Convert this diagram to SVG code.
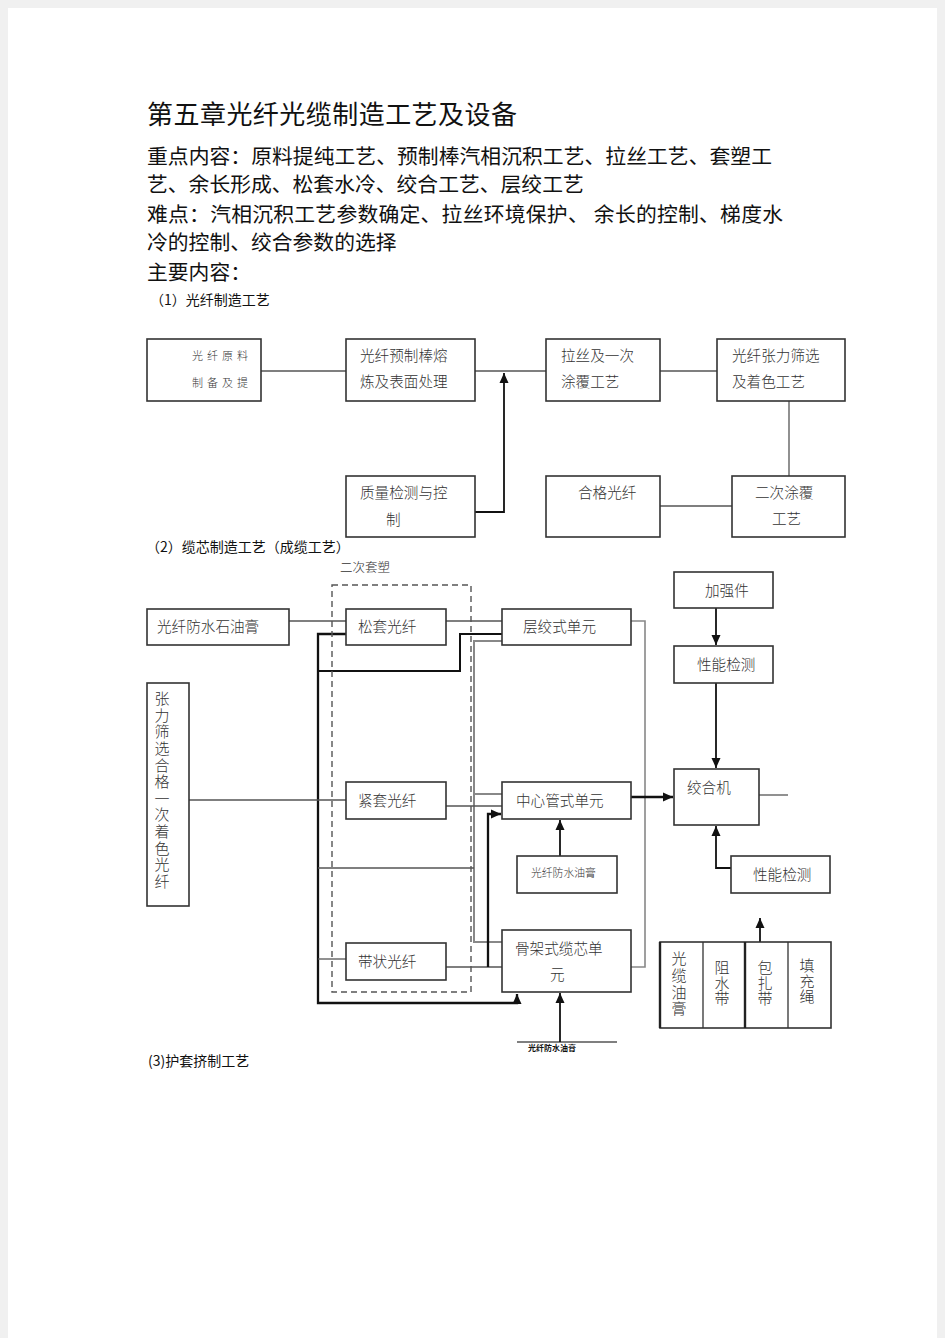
<svg xmlns="http://www.w3.org/2000/svg" width="945" height="1338" viewBox="0 0 945 1338">
<style>
.h{font-family:"Noto Sans CJK SC","Noto Sans",sans-serif;fill:#111}
.t{font-family:"Noto Sans CJK SC","Noto Sans",sans-serif;fill:#333;font-size:14.6px;font-weight:300}
.v{writing-mode:vertical-rl;font-size:14.6px}
.box{fill:#fff;stroke:#333;stroke-width:1.6}
.thin{fill:none;stroke:#555;stroke-width:1.3}
.thick{fill:none;stroke:#111;stroke-width:2.3}
.gray{fill:none;stroke:#888;stroke-width:2}
.dash{fill:none;stroke:#555;stroke-width:1.4;stroke-dasharray:6 4}
</style>
<defs>
<marker id="ah" markerUnits="userSpaceOnUse" markerWidth="10" markerHeight="10" refX="10" refY="5" orient="auto"><path d="M0,0.5 L10,5 L0,9.5 z" fill="#111"/></marker>
</defs>
<rect width="945" height="1338" fill="#f0f0f0"/>
<rect x="8" y="8" width="929" height="1330" fill="#fff"/>

<g id="heading">
<text class="h" x="147" y="124" font-size="26" textLength="370">第五章光纤光缆制造工艺及设备</text>
<text class="h" x="147" y="164" font-size="20.8" textLength="625">重点内容：原料提纯工艺、预制棒汽相沉积工艺、拉丝工艺、套塑工</text>
<text class="h" x="147" y="192" font-size="20.8">艺、余长形成、松套水冷、绞合工艺、层绞工艺</text>
<text class="h" x="147" y="222" font-size="20.8" textLength="636">难点：汽相沉积工艺参数确定、拉丝环境保护、 余长的控制、梯度水</text>
<text class="h" x="147" y="250" font-size="20.8">冷的控制、绞合参数的选择</text>
<text class="h" x="147" y="280" font-size="20.8">主要内容：</text>
<text class="h" x="150" y="305" font-size="14">（1）光纤制造工艺</text>
<text class="h" x="146" y="552" font-size="14">（2）缆芯制造工艺（成缆工艺）</text>
<text class="h" x="148" y="1066" font-size="14">(3)护套挤制工艺</text>
</g>

<g id="connectors">
<path class="thin" d="M261,371 H346"/>
<path class="thin" d="M475,371 H546"/>
<path class="thin" d="M660,371 H717"/>
<path class="thin" d="M789,401 V476"/>
<path class="thin" d="M660,506 H732"/>
<path class="thick" style="stroke-width:1.8" d="M475,512 H504 V373" marker-end="url(#ah)"/>

<path class="thin" d="M289,621 H346"/>
<path class="thin" d="M446,621 H502"/>
<path class="thick" d="M346,634 H318 V1003 H517 V994" marker-end="url(#ah)"/>
<path class="thick" style="stroke-width:2" d="M318,671 H460 V634 H502"/>
<path class="gray" d="M502,641 H474 V942 H502"/>
<path class="gray" d="M474,794 H502"/>
<path class="thin" d="M318,868 H474"/>
<path class="thin" d="M189,800 H346"/>
<path class="thin" d="M446,806 H502"/>
<path class="thin" d="M318,959 H346"/>
<path class="thin" d="M446,967 H502"/>
<path class="thick" d="M488,967 V814 H501" marker-end="url(#ah)"/>
<path class="gray" style="stroke-width:1.6" d="M631,621 H645 V967 H631"/>
<path class="thick" d="M631,797 H673" marker-end="url(#ah)"/>
<path class="thick" style="stroke-width:1.8" d="M716,608 V645" marker-end="url(#ah)"/>
<path class="thick" style="stroke-width:1.8" d="M716,683 V768" marker-end="url(#ah)"/>
<path class="thin" d="M759,795 H788"/>
<path class="thick" style="stroke-width:1.8" d="M731,868 H716 V826" marker-end="url(#ah)"/>
<path class="thick" style="stroke-width:1.8" d="M760,1000 V918" marker-end="url(#ah)"/>
<path class="thick" style="stroke-width:1.8" d="M560,856 V820" marker-end="url(#ah)"/>
<path class="thin" d="M517,1042 H617"/>
<path class="thick" style="stroke-width:1.8" d="M560,1042 V993" marker-end="url(#ah)"/>
</g>

<g id="f1-raw">
<rect class="box" x="147" y="339" width="114" height="62"/>
<text class="t" style="font-size:11px;letter-spacing:4px"><tspan x="192" y="360">光纤原料</tspan><tspan x="192" y="387">制备及提</tspan></text>
</g>
<g id="f1-preform">
<rect class="box" x="346" y="339" width="129" height="62"/>
<text class="t"><tspan x="360" y="361">光纤预制棒熔</tspan><tspan x="360" y="387">炼及表面处理</tspan></text>
</g>
<g id="f1-draw">
<rect class="box" x="546" y="339" width="114" height="62"/>
<text class="t"><tspan x="561" y="361">拉丝及一次</tspan><tspan x="561" y="387">涂覆工艺</tspan></text>
</g>
<g id="f1-tension">
<rect class="box" x="717" y="339" width="128" height="62"/>
<text class="t"><tspan x="732" y="361">光纤张力筛选</tspan><tspan x="732" y="387">及着色工艺</tspan></text>
</g>
<g id="f1-quality">
<rect class="box" x="346" y="476" width="129" height="61"/>
<text class="t"><tspan x="360" y="498">质量检测与控</tspan><tspan x="386" y="525">制</tspan></text>
</g>
<g id="f1-ok">
<rect class="box" x="546" y="476" width="114" height="61"/>
<text class="t" x="578" y="498">合格光纤</text>
</g>
<g id="f1-coat2">
<rect class="box" x="732" y="476" width="113" height="61"/>
<text class="t"><tspan x="755" y="498">二次涂覆</tspan><tspan x="772" y="524">工艺</tspan></text>
</g>

<g id="f2-group">
<rect class="dash" x="332" y="585" width="139" height="407"/>
<text class="t" x="340" y="572" style="font-size:12.5px">二次套塑</text>
</g>
<g id="f2-jelly">
<rect class="box" x="147" y="609" width="142" height="36"/>
<text class="t" x="157" y="632">光纤防水石油膏</text>
</g>
<g id="f2-loose">
<rect class="box" x="346" y="609" width="100" height="36"/>
<text class="t" x="358" y="632">松套光纤</text>
</g>
<g id="f2-layer">
<rect class="box" x="502" y="609" width="129" height="36"/>
<text class="t" x="523" y="632">层绞式单元</text>
</g>
<g id="f2-strength">
<rect class="box" x="674" y="572" width="99" height="36"/>
<text class="t" x="705" y="596">加强件</text>
</g>
<g id="f2-test1">
<rect class="box" x="674" y="646" width="99" height="37"/>
<text class="t" x="697" y="670">性能检测</text>
</g>
<g id="f2-fiber">
<rect class="box" x="147" y="683" width="42" height="223"/>
<text class="t v" x="162" y="691" style="font-size:15px;letter-spacing:1.6px">张力筛选合格一次着色光纤</text>
</g>
<g id="f2-tight">
<rect class="box" x="346" y="782" width="100" height="37"/>
<text class="t" x="358" y="806">紧套光纤</text>
</g>
<g id="f2-central">
<rect class="box" x="502" y="782" width="129" height="37"/>
<text class="t" x="516" y="806">中心管式单元</text>
</g>
<g id="f2-strander">
<rect class="box" x="674" y="769" width="85" height="56"/>
<text class="t" x="687" y="793">绞合机</text>
</g>
<g id="f2-jelly2">
<rect class="box" x="517" y="856" width="100" height="37"/>
<text class="t" x="531" y="877" style="font-size:10.8px">光纤防水油膏</text>
</g>
<g id="f2-test2">
<rect class="box" x="731" y="856" width="99" height="37"/>
<text class="t" x="753" y="880">性能检测</text>
</g>
<g id="f2-ribbon">
<rect class="box" x="346" y="943" width="100" height="37"/>
<text class="t" x="358" y="967">带状光纤</text>
</g>
<g id="f2-slotted">
<rect class="box" x="502" y="930" width="129" height="62"/>
<text class="t"><tspan x="515" y="954">骨架式缆芯单</tspan><tspan x="550" y="980">元</tspan></text>
</g>
<g id="f2-jelly3">
<text class="h" x="528" y="1051" font-size="8" font-weight="700">光纤防水油膏</text>
</g>
<g id="f2-materials">
<rect class="box" x="660" y="942" width="171" height="86"/>
<path d="M703,942 V1028 M788,942 V1028" stroke="#333" stroke-width="1.3"/>
<path d="M745,942 V1028 M660,942 V1028" stroke="#222" stroke-width="2.4"/>
<text class="t v" x="679" y="951" style="font-size:15px;letter-spacing:1.7px">光缆油膏</text>
<text class="t v" x="722" y="960" style="font-size:15px;letter-spacing:0.5px">阻水带</text>
<text class="t v" x="765" y="960" style="font-size:15px;letter-spacing:0.5px">包扎带</text>
<text class="t v" x="807" y="958" style="font-size:15px;letter-spacing:0.5px">填充绳</text>
</g>
</svg>
